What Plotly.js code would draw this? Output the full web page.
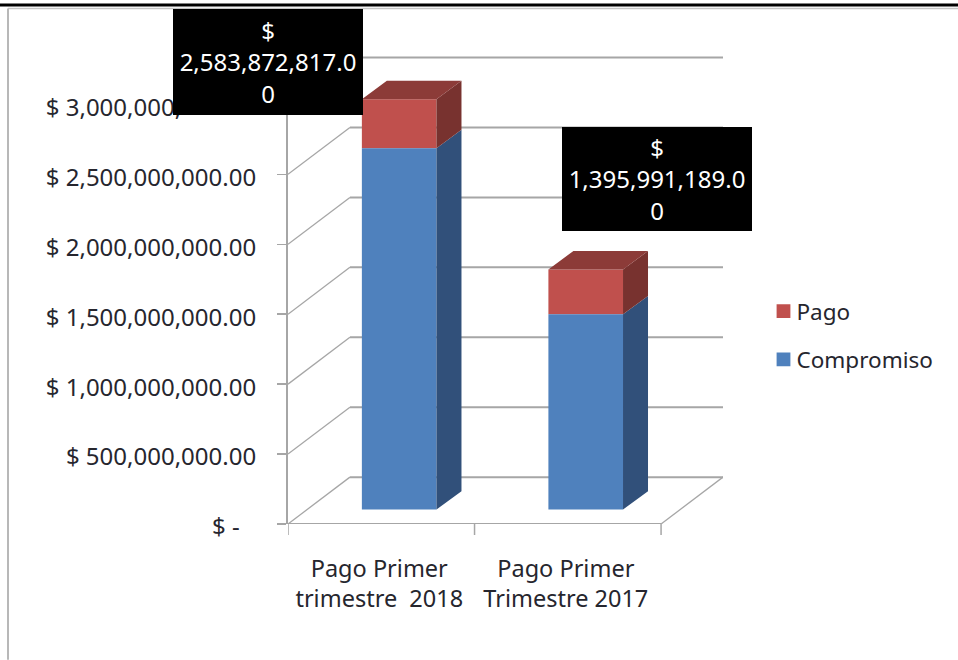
<!DOCTYPE html>
<html><head><meta charset="utf-8">
<script src="https://cdn.plot.ly/plotly-3.0.1.min.js"></script>
<style>html,body{margin:0;padding:0;background:#fff}</style></head>
<body><div id="chart" style="width:958px;height:660px"></div>
<script>
// Data
const categories = ["Pago Primer<br>trimestre\u00a0\u00a02018", "Pago Primer<br>Trimestre 2017"];
const compromiso = [2583872817, 1395991189];
const pago = [350000000, 321000000];
const yTicks = [0, 500000000, 1000000000, 1500000000, 2000000000, 2500000000, 3000000000];
const yLabels = ["$ -\u00a0\u00a0\u2009", "$ 500,000,000.00", "$ 1,000,000,000.00", "$ 1,500,000,000.00", "$ 2,000,000,000.00", "$ 2,500,000,000.00", "$ 3,000,000,000.00"];

// Pseudo-3D projection, in axis units
const wallDx = 0.332, wallDy = 335e6;   // floor depth
const barOffX = 0.596, barW = 0.4, baseY = 103e6;
const depthX = 0.134, depthY = 132e6;
const grid = "#a6a6a6", txt = "#26262e";
const font = "Noto Sans, Open Sans, sans-serif";
const fs = 24;

const cx = categories.map((_, i) => i + barOffX);

function faces(bot, top, kind) {
  const xs = [], ys = [];
  cx.forEach((c, i) => {
    const r = c + barW / 2, l = c - barW / 2;
    if (kind === "side") {
      xs.push(r, r + depthX, r + depthX, r, r, null);
      ys.push(bot[i], bot[i] + depthY, top[i] + depthY, top[i], bot[i], null);
    } else {
      xs.push(l, l + depthX, r + depthX, r, l, null);
      ys.push(top[i], top[i] + depthY, top[i] + depthY, top[i], top[i], null);
    }
  });
  return {x: xs, y: ys};
}
function poly(f, color) {
  return {type: "scatter", mode: "lines", x: f.x, y: f.y, fill: "toself", fillcolor: color,
    line: {width: 0, color: color}, showlegend: false, hoverinfo: "skip"};
}
const base0 = compromiso.map(() => baseY);
const top1 = compromiso.map(v => v + baseY);
const top2 = compromiso.map((v, i) => v + pago[i] + baseY);

const traces = [
  poly(faces(base0, top1, "side"), "#31507A"),
  poly(faces(top1, top2, "side"), "#78322F"),
  poly(faces(top1, top2, "top"), "#8C3B38"),
  {type: "bar", name: "Pago", legendgroup: "a", x: cx, y: pago, base: top1, width: barW,
    marker: {color: "#C0504D", line: {width: 0}}},
  {type: "bar", name: "Compromiso", legendgroup: "b", x: cx, y: compromiso, base: base0, width: barW,
    marker: {color: "#4F81BD", line: {width: 0}}}
];

function line(x0, y0, x1, y1, w, c) {
  return {type: "line", xref: "x", yref: "y", x0, y0, x1, y1, layer: "below", line: {color: c || grid, width: w}};
}
const shapes = [];
yTicks.forEach(t => {
  shapes.push(line(0, t, wallDx, t + wallDy, 1.3));
  shapes.push(line(wallDx, t + wallDy, 2 + wallDx, t + wallDy, 2));
});
shapes.push(line(0, 0, 2, 0, 2));
shapes.push(line(2, 0, 2 + wallDx, wallDy, 1.3));
// category boundary ticks
[0, 1, 2].forEach(i => shapes.push({type: "line", xref: "x", yref: "paper", x0: i, x1: i, y0: 0, y1: -11 / 468.5, line: {color: grid, width: 1.5}}));
// outer frame of the picture
shapes.push({type: "line", xref: "paper", yref: "paper", x0: -288 / 435, x1: 670 / 435, y0: 519.5 / 468.5, y1: 519.5 / 468.5, line: {color: "#000", width: 3}});
shapes.push({type: "line", xref: "paper", yref: "paper", x0: -280 / 435, x1: 670 / 435, y0: 516 / 468.5, y1: 516 / 468.5, line: {color: "#c4c4c4", width: 1.5}});
shapes.push({type: "line", xref: "paper", yref: "paper", x0: -280 / 435, x1: -280 / 435, y0: 516 / 468.5, y1: -136 / 468.5, line: {color: "#b8b8b8", width: 2}});
// the data label box hides the end of the top tick label: clear what peeks out below it
shapes.push({type: "rect", xref: "paper", yref: "paper", layer: "above", x0: -105 / 435, x1: -3 / 435, y0: 405 / 468.5, y1: 411 / 468.5, fillcolor: "#fff", line: {width: 0}});

function labelText(v) {
  const s = v.toLocaleString("en-US", {minimumFractionDigits: 2, maximumFractionDigits: 2});
  return "$<br>" + s.slice(0, -1) + "<br>" + s.slice(-1);
}
const labelPos = [[-0.046, 0.9872, 106], [0.8494, 0.7375, 104]];
const annotations = compromiso.map((v, i) => ({
  xref: "paper", yref: "paper", x: labelPos[i][0], y: labelPos[i][1], xanchor: "center", yanchor: "middle",
  text: labelText(v), showarrow: false,
  width: 190, height: labelPos[i][2], bgcolor: "#000", borderpad: 0, borderwidth: 0, align: "center", valign: "middle",
  font: {family: font, size: fs, color: "#fff"}
}));

const layout = {
  width: 958, height: 660, paper_bgcolor: "#fff", plot_bgcolor: "rgba(0,0,0,0)",
  margin: {l: 288, r: 235, t: 56, b: 135.5, pad: 0},
  barmode: "overlay",
  font: {family: font, size: fs, color: txt},
  xaxis: {type: "linear", range: [0, 2 + wallDx], tickmode: "array", tickvals: categories.map((_, i) => i + 0.5),
    ticktext: categories, ticks: "", ticklen: 0, showgrid: false, zeroline: false, showline: false,
    ticklabelstandoff: 28, ticklabelshift: -2, tickfont: {family: font, size: 23.5, color: txt}},
  yaxis: {type: "linear", range: [0, 3346e6], tickmode: "array", tickvals: yTicks, ticktext: yLabels,
    ticks: "outside", ticklen: 9, tickwidth: 1.5, tickcolor: grid, showgrid: false, zeroline: false,
    showline: true, linecolor: grid, linewidth: 2, ticklabelstandoff: 16, ticklabelshift: 3,
    tickfont: {family: font, size: fs, color: txt}},
  legend: {x: 1.1023, y: 0.5, xanchor: "left", yanchor: "top", traceorder: "grouped", tracegroupgap: 16,
    indentation: -11, bgcolor: "rgba(0,0,0,0)", font: {family: font, size: 22.5, color: txt}},
  shapes, annotations, hovermode: false
};
Plotly.newPlot("chart", traces, layout, {displayModeBar: false, staticPlot: true}).then(gd => {
  // legend swatches: slightly larger and closer to their text
  gd.querySelectorAll(".legendpoints").forEach(g => g.setAttribute("transform", "translate(4,0) scale(1.15)"));
});
</script></body></html>
